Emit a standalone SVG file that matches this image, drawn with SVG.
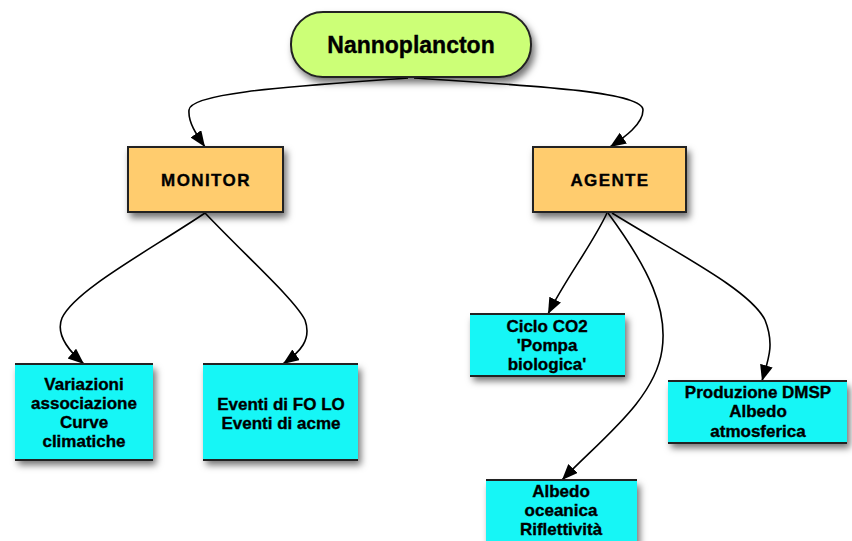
<svg xmlns="http://www.w3.org/2000/svg" width="852" height="541" viewBox="0 0 852 541">
<defs>
<filter id="sh" x="-20%" y="-20%" width="150%" height="160%">
<feDropShadow dx="3" dy="5" stdDeviation="3.5" flood-color="#000" flood-opacity="0.55"/>
</filter>
<marker id="ah" markerWidth="18" markerHeight="14" refX="16" refY="6.5" orient="auto" markerUnits="userSpaceOnUse">
<path d="M0,0 L16,6.5 L0,13 Z" fill="#000"/>
</marker>
<style>
.t{font-family:"Liberation Sans",Arial,sans-serif;font-weight:bold;fill:#000;text-anchor:middle;stroke:#000;stroke-width:0.35}
.big{font-size:23px}
.mid{font-size:17px;letter-spacing:1.4px}
.sm{font-size:17px}
.green{fill:#ccff77;stroke:#222;stroke-width:2}
.orange{fill:#ffcc6e;stroke:#222;stroke-width:2}
.cyan{fill:#12f6f6}
.edge{stroke:#222;stroke-width:2}
.conn{fill:none;stroke:#000;stroke-width:1.6;marker-end:url(#ah)}
</style>
</defs>
<rect width="852" height="541" fill="#fff"/>
<g id="connectors">
<path class="conn" d="M408,78 C300,86 190,92 189,110 C188,122 196,134 205,147"/>
<path class="conn" d="M414,78 C540,86 643,92 643,110 C643,124 625,137 610,147"/>
<path class="conn" d="M205,213 C150,250 75,290 62,318 C55,335 70,352 84,364"/>
<path class="conn" d="M205,213 C250,260 295,300 305,320 C312,340 300,352 283,364"/>
<path class="conn" d="M607,213 C592,245 566,278 548,314"/>
<path class="conn" d="M608,213 C650,270 668,310 662,350 C655,400 600,440 562,480"/>
<path class="conn" d="M612,213 C680,255 750,290 765,320 C775,345 768,360 762,381"/>
</g>
<g id="nannoplancton">
<rect class="green" x="291" y="12" width="240" height="65" rx="32" ry="32" filter="url(#sh)"/>
<text class="t big" x="411" y="53">Nannoplancton</text>
</g>
<g id="monitor">
<rect class="orange" x="128" y="147" width="155" height="65" filter="url(#sh)"/>
<text class="t mid" x="206" y="186">MONITOR</text>
</g>
<g id="agente">
<rect class="orange" x="533" y="147" width="153" height="65" filter="url(#sh)"/>
<text class="t mid" x="610" y="186">AGENTE</text>
</g>
<g id="variazioni">
<rect class="cyan" x="15" y="364" width="138" height="96" filter="url(#sh)"/>
<line class="edge" x1="15" y1="364" x2="153" y2="364"/>
<line class="edge" x1="15" y1="460" x2="153" y2="460"/>
<text class="t sm" x="84" y="390">Variazioni</text>
<text class="t sm" x="84" y="409">associazione</text>
<text class="t sm" x="84" y="428">Curve</text>
<text class="t sm" x="84" y="447">climatiche</text>
</g>
<g id="eventi">
<rect class="cyan" x="203" y="364" width="155" height="96" filter="url(#sh)"/>
<line class="edge" x1="203" y1="364" x2="358" y2="364"/>
<line class="edge" x1="203" y1="460" x2="358" y2="460"/>
<text class="t sm" x="281" y="410">Eventi di FO LO</text>
<text class="t sm" x="281" y="429">Eventi di acme</text>
</g>
<g id="ciclo">
<rect class="cyan" x="470" y="314" width="155" height="62" filter="url(#sh)"/>
<line class="edge" x1="470" y1="314" x2="625" y2="314"/>
<line class="edge" x1="470" y1="376" x2="625" y2="376"/>
<text class="t sm" x="547" y="332">Ciclo CO2</text>
<text class="t sm" x="547" y="351">'Pompa</text>
<text class="t sm" x="547" y="370">biologica'</text>
</g>
<g id="produzione">
<rect class="cyan" x="668" y="381" width="179" height="62" filter="url(#sh)"/>
<line class="edge" x1="668" y1="381" x2="847" y2="381"/>
<line class="edge" x1="668" y1="443" x2="847" y2="443"/>
<text class="t sm" x="758" y="398">Produzione DMSP</text>
<text class="t sm" x="758" y="417">Albedo</text>
<text class="t sm" x="758" y="437">atmosferica</text>
</g>
<g id="albedo">
<rect class="cyan" x="486" y="480" width="151" height="70" filter="url(#sh)"/>
<line class="edge" x1="486" y1="480" x2="637" y2="480"/>
<text class="t sm" x="561" y="497">Albedo</text>
<text class="t sm" x="561" y="516">oceanica</text>
<text class="t sm" x="561" y="535">Riflettività</text>
</g>
</svg>
